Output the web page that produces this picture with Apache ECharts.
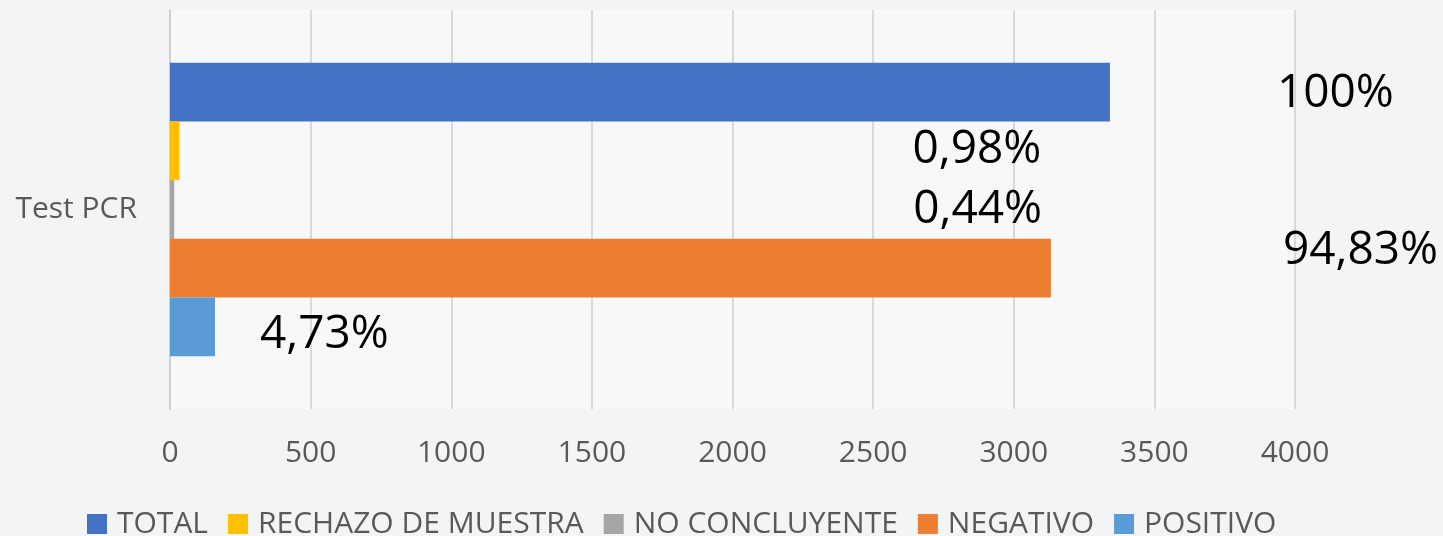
<!DOCTYPE html>
<html>
<head>
<meta charset="utf-8">
<script src="https://cdn.jsdelivr.net/npm/echarts@6/dist/echarts.min.js"></script>
<style>
  html, body { margin: 0; padding: 0; background: #f3f4f5; }
  #chart { width: 1443px; height: 536px; }
</style>
</head>
<body>
<div id="chart"></div>
<script>
// datos
const categories = ['Test PCR']
const seriesNames = ['TOTAL', 'RECHAZO DE MUESTRA', 'NO CONCLUYENTE', 'NEGATIVO', 'POSITIVO']
const totalValues = [3342]
const rechazoValues = [34]
const noConcluyenteValues = [15]
const negativoValues = [3132]
const positivoValues = [160]
const pctLabels = ['100%', '0,98%', '0,44%', '94,83%', '4,73%']
const xTicks = [0, 500, 1000, 1500, 2000, 2500, 3000, 3500, 4000]

const colors = ['#4472C4', '#FFC000', '#A5A5A5', '#ED7D31', '#5B9BD5']
// desplazamiento de cada etiqueta respecto al final de la barra
const labelOffsets = [[167, 2], [733, -1], [739, 0], [232, -17], [45, 8]]

const chart = echarts.init(document.getElementById('chart'))
const font = '"Open Sans", "Noto Sans", sans-serif'

const seriesData = [totalValues, rechazoValues, noConcluyenteValues, negativoValues, positivoValues]

const option = {
  backgroundColor: '#f3f4f5',
  textStyle: { fontFamily: font },
  color: colors,
  animation: false,
  grid: {
    left: 170,
    right: 148,
    top: 10,
    bottom: 127,
    show: true,
    backgroundColor: '#f6f8fa',
    borderWidth: 0
  },
  legend: {
    data: seriesNames,
    left: 82,
    top: 504,
    icon: 'rect',
    itemWidth: 20,
    itemHeight: 20,
    itemGap: 20,
    textStyle: {
      fontFamily: font,
      fontSize: 30,
      color: '#595959',
      padding: [0, 0, 0, 5]
    }
  },
  xAxis: {
    type: 'value',
    min: xTicks[0],
    max: xTicks[xTicks.length - 1],
    interval: 500,
    axisLine: { show: false },
    axisTick: { show: false },
    splitLine: { lineStyle: { color: '#d9d9d9', width: 2 } },
    axisLabel: {
      fontFamily: font,
      fontSize: 30,
      color: '#595959',
      margin: 29,
      formatter: (v) => String(v)
    }
  },
  yAxis: {
    type: 'category',
    data: categories,
    inverse: true,
    axisTick: { show: false },
    axisLine: { lineStyle: { color: '#cfcfcf', width: 2 } },
    axisLabel: {
      fontFamily: font,
      fontSize: 30,
      color: '#595959',
      margin: 33
    }
  },
  series: seriesNames.map((name, i) => ({
    name: name,
    type: 'bar',
    data: seriesData[i],
    barGap: '0%',
    barCategoryGap: '26.4%',
    itemStyle: { color: colors[i] },
    label: {
      show: true,
      position: 'right',
      distance: 0,
      offset: labelOffsets[i],
      fontFamily: font,
      fontSize: 46,
      color: '#000000',
      formatter: () => pctLabels[i]
    }
  }))
}

chart.setOption(option)
</script>
</body>
</html>
